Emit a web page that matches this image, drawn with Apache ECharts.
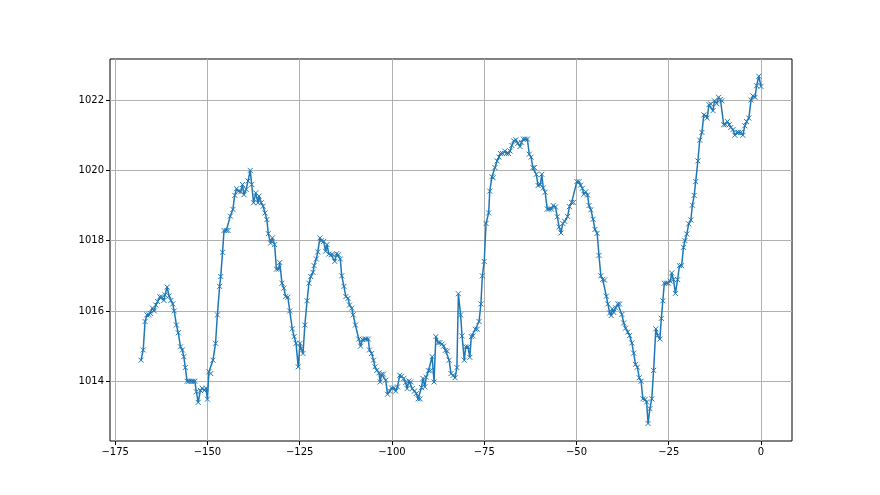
<!DOCTYPE html>
<html>
<head>
<meta charset="utf-8">
<script src="https://cdn.jsdelivr.net/npm/echarts@6/dist/echarts.min.js"></script>
<style>
html,body{margin:0;padding:0;background:#fff;}
#chart{width:880px;height:495px;}
</style>
</head>
<body>
<div id="chart"></div>
<script>
// hours relative to now
const hours = [
-168.0,-167.4,-166.9,-166.4,-165.8,-165.4,-164.9,-164.4,-164.0,-163.5,-162.9,-162.4,-161.8,-161.5,-160.9,-160.4,-159.9,-159.4,-159.0,-158.4,
-157.9,-157.3,-156.8,-156.4,-156.0,-155.5,-155.0,-154.4,-153.9,-153.4,-153.0,-152.5,-151.9,-151.4,-150.8,-150.4,-150.0,-149.6,-149.1,-148.5,
-147.8,-147.3,-146.7,-146.4,-145.9,-145.5,-144.9,-144.4,-143.8,-143.1,-142.6,-142.1,-141.6,-141.0,-140.5,-140.1,-139.5,-139.0,-138.4,-138.0,
-137.5,-136.9,-136.3,-136.0,-135.4,-134.9,-134.4,-133.9,-133.5,-132.9,-132.4,-131.8,-131.3,-130.7,-130.4,-129.8,-129.3,-128.8,-128.2,-127.7,
-127.0,-126.5,-126.0,-125.4,-124.9,-124.6,-124.1,-123.6,-123.0,-122.5,-122.0,-121.4,-121.1,-120.5,-120.1,-119.5,-119.1,-118.5,-118.0,-117.6,
-117.1,-116.5,-116.0,-115.5,-115.0,-114.5,-114.0,-113.6,-113.0,-112.5,-111.9,-111.5,-110.9,-110.5,-109.9,-109.0,-108.5,-108.0,-107.4,-107.0,
-106.4,-106.1,-105.5,-105.0,-104.6,-104.1,-103.5,-103.2,-102.8,-102.3,-101.7,-101.2,-100.6,-100.1,-99.5,-99.0,-98.5,-97.9,-97.4,-96.8,
-96.3,-95.9,-95.4,-94.9,-94.5,-93.9,-93.4,-92.9,-92.4,-92.0,-91.6,-91.1,-90.7,-90.1,-89.6,-89.1,-88.6,-88.1,-87.5,-87.0,
-86.4,-86.0,-85.5,-85.0,-84.5,-84.0,-83.4,-82.9,-82.4,-82.0,-81.4,-81.0,-80.4,-80.0,-79.4,-78.9,-78.5,-78.0,-77.4,-76.9,
-76.4,-75.9,-75.5,-75.0,-74.5,-73.8,-73.5,-72.9,-72.6,-72.1,-71.5,-71.0,-70.6,-70.0,-69.4,-69.0,-68.4,-68.0,-67.5,-67.0,
-66.4,-65.9,-65.3,-64.9,-64.4,-63.9,-63.3,-62.8,-62.3,-61.8,-61.4,-60.9,-60.4,-59.8,-59.4,-59.0,-58.5,-57.9,-57.4,-56.8,
-56.3,-55.7,-55.2,-54.7,-54.2,-53.7,-53.2,-52.4,-51.9,-51.3,-50.8,-49.9,-49.3,-48.9,-48.4,-48.0,-47.5,-47.0,-46.6,-46.1,
-45.5,-45.0,-44.4,-43.9,-43.4,-42.9,-42.4,-41.9,-41.5,-41.0,-40.6,-40.3,-39.9,-39.4,-38.8,-38.3,-37.7,-37.2,-36.7,-36.1,
-35.6,-35.0,-34.5,-34.0,-33.5,-33.0,-32.5,-32.0,-31.4,-31.0,-30.6,-30.1,-29.6,-29.1,-28.5,-28.0,-27.4,-27.0,-26.6,-26.2,
-25.6,-25.1,-24.6,-24.2,-23.7,-23.2,-22.6,-22.1,-21.5,-21.0,-20.6,-20.1,-19.6,-19.0,-18.6,-18.1,-17.7,-17.1,-16.6,-16.0,
-15.5,-14.9,-14.6,-14.1,-13.6,-13.0,-12.6,-12.0,-11.5,-11.0,-10.6,-10.1,-9.6,-9.1,-8.6,-8.2,-7.6,-7.1,-6.5,-6.1,
-5.5,-4.9,-4.4,-3.9,-3.3,-2.7,-2.2,-1.6,-1.2,-0.6,0.0
];
// pressure values
const pressure = [
1014.60,1014.89,1015.70,1015.89,1015.89,1015.93,1016.08,1016.00,1016.17,1016.27,1016.40,1016.40,1016.30,1016.46,1016.68,1016.43,1016.30,1016.20,1016.00,1015.60,
1015.38,1014.98,1014.89,1014.70,1014.39,1014.00,1014.00,1014.00,1014.00,1014.00,1013.70,1013.40,1013.74,1013.80,1013.74,1013.80,1013.49,1014.27,1014.22,1014.60,
1015.08,1015.89,1016.70,1016.98,1017.67,1018.29,1018.29,1018.29,1018.70,1018.89,1019.29,1019.48,1019.41,1019.39,1019.60,1019.31,1019.46,1019.70,1020.00,1019.60,
1019.08,1019.36,1019.08,1019.27,1019.08,1018.98,1018.79,1018.60,1018.20,1017.93,1018.08,1017.89,1017.19,1017.19,1017.38,1016.79,1016.65,1016.41,1016.39,1016.00,
1015.49,1015.27,1015.08,1014.41,1015.08,1014.93,1014.79,1015.60,1016.29,1016.79,1016.98,1017.10,1017.29,1017.48,1017.68,1018.08,1018.00,1017.98,1017.70,1017.89,
1017.62,1017.60,1017.60,1017.41,1017.63,1017.60,1017.48,1017.00,1016.70,1016.41,1016.36,1016.17,1016.08,1015.89,1015.60,1015.20,1015.00,1015.19,1015.20,1015.20,
1015.20,1014.89,1014.79,1014.60,1014.41,1014.31,1014.24,1013.98,1014.20,1014.20,1014.03,1013.63,1013.72,1013.81,1013.81,1013.72,1013.84,1014.17,1014.14,1014.08,
1013.96,1013.79,1014.01,1013.98,1013.79,1013.72,1013.65,1013.50,1013.50,1013.82,1014.08,1013.84,1014.12,1014.30,1014.30,1014.70,1013.98,1015.27,1015.10,1015.10,
1015.06,1015.00,1014.88,1014.86,1014.60,1014.22,1014.17,1014.10,1014.39,1016.49,1015.89,1015.29,1014.60,1014.98,1014.98,1014.68,1015.27,1015.29,1015.48,1015.48,
1015.70,1016.20,1017.00,1017.41,1018.49,1018.79,1019.41,1019.82,1019.79,1020.08,1020.27,1020.38,1020.48,1020.48,1020.55,1020.48,1020.48,1020.55,1020.71,1020.84,
1020.87,1020.77,1020.68,1020.80,1020.89,1020.89,1020.89,1020.46,1020.38,1020.08,1020.08,1019.89,1019.57,1019.60,1019.89,1019.50,1019.38,1018.90,1018.90,1018.90,
1019.00,1018.96,1018.68,1018.39,1018.22,1018.49,1018.55,1018.69,1018.97,1019.09,1019.09,1019.68,1019.68,1019.58,1019.49,1019.32,1019.39,1019.30,1019.00,1018.88,
1018.61,1018.32,1018.21,1017.58,1017.00,1016.90,1016.88,1016.42,1016.20,1015.94,1015.87,1016.06,1015.96,1016.09,1016.20,1016.20,1015.90,1015.66,1015.51,1015.40,
1015.30,1015.09,1014.80,1014.48,1014.40,1014.10,1014.00,1013.50,1013.48,1013.41,1012.80,1013.22,1013.50,1014.31,1015.49,1015.30,1015.20,1015.79,1016.29,1016.79,
1016.79,1016.79,1016.85,1017.08,1016.89,1016.50,1016.89,1017.29,1017.29,1017.81,1018.00,1018.19,1018.48,1018.59,1019.01,1019.29,1019.68,1020.27,1020.86,1021.08,
1021.58,1021.55,1021.49,1021.87,1021.89,1021.70,1021.98,1021.90,1022.08,1022.02,1021.98,1021.30,1021.30,1021.39,1021.30,1021.22,1021.16,1021.00,1021.08,1021.08,
1021.08,1021.00,1021.27,1021.39,1021.49,1022.00,1022.12,1022.08,1022.41,1022.68,1022.39
];
const xTicks = [-175, -150, -125, -100, -75, -50, -25, 0];
const yTicks = [1014, 1016, 1018, 1020, 1022];

const data = hours.map((h, i) => [h, pressure[i]]);
const minus = v => String(v).replace('-', '\u2212');

const chart = echarts.init(document.getElementById('chart'), null, {renderer: 'canvas'});
chart.setOption({
  animation: false,
  backgroundColor: '#ffffff',
  grid: {left: 110, right: 88, top: 59, bottom: 54, show: true, borderColor: '#000', borderWidth: 1, backgroundColor: 'transparent'},
  xAxis: {
    type: 'value', min: -176.4, max: 8.4, position: 'bottom',
    axisLine: {show: false, onZero: false},
    axisTick: {show: true, inside: false, length: 4, customValues: xTicks, lineStyle: {color: '#000', width: 1}},
    axisLabel: {customValues: xTicks, formatter: minus, color: '#000', fontSize: 10, fontFamily: 'DejaVu Sans', margin: 6},
    splitLine: {show: true, lineStyle: {color: '#b0b0b0', width: 1}}
  },
  yAxis: {
    type: 'value', min: 1012.3, max: 1023.17, position: 'left',
    axisLine: {show: false, onZero: false},
    axisTick: {show: true, inside: false, length: 4, customValues: yTicks, lineStyle: {color: '#000', width: 1}},
    axisLabel: {customValues: yTicks, formatter: v => String(v), color: '#000', fontSize: 10, fontFamily: 'DejaVu Sans', margin: 6},
    splitLine: {show: true, lineStyle: {color: '#b0b0b0', width: 1}}
  },
  series: [{
    type: 'line',
    data: data,
    showAllSymbol: true,
    symbol: 'path://M0,0 L10,10 M10,0 L0,10',
    symbolSize: 5,
    lineStyle: {color: '#1f77b4', width: 1.5},
    itemStyle: {color: '#1f77b4', borderColor: '#1f77b4', borderWidth: 1},
    emphasis: {disabled: true}
  }]
});
</script>
</body>
</html>
